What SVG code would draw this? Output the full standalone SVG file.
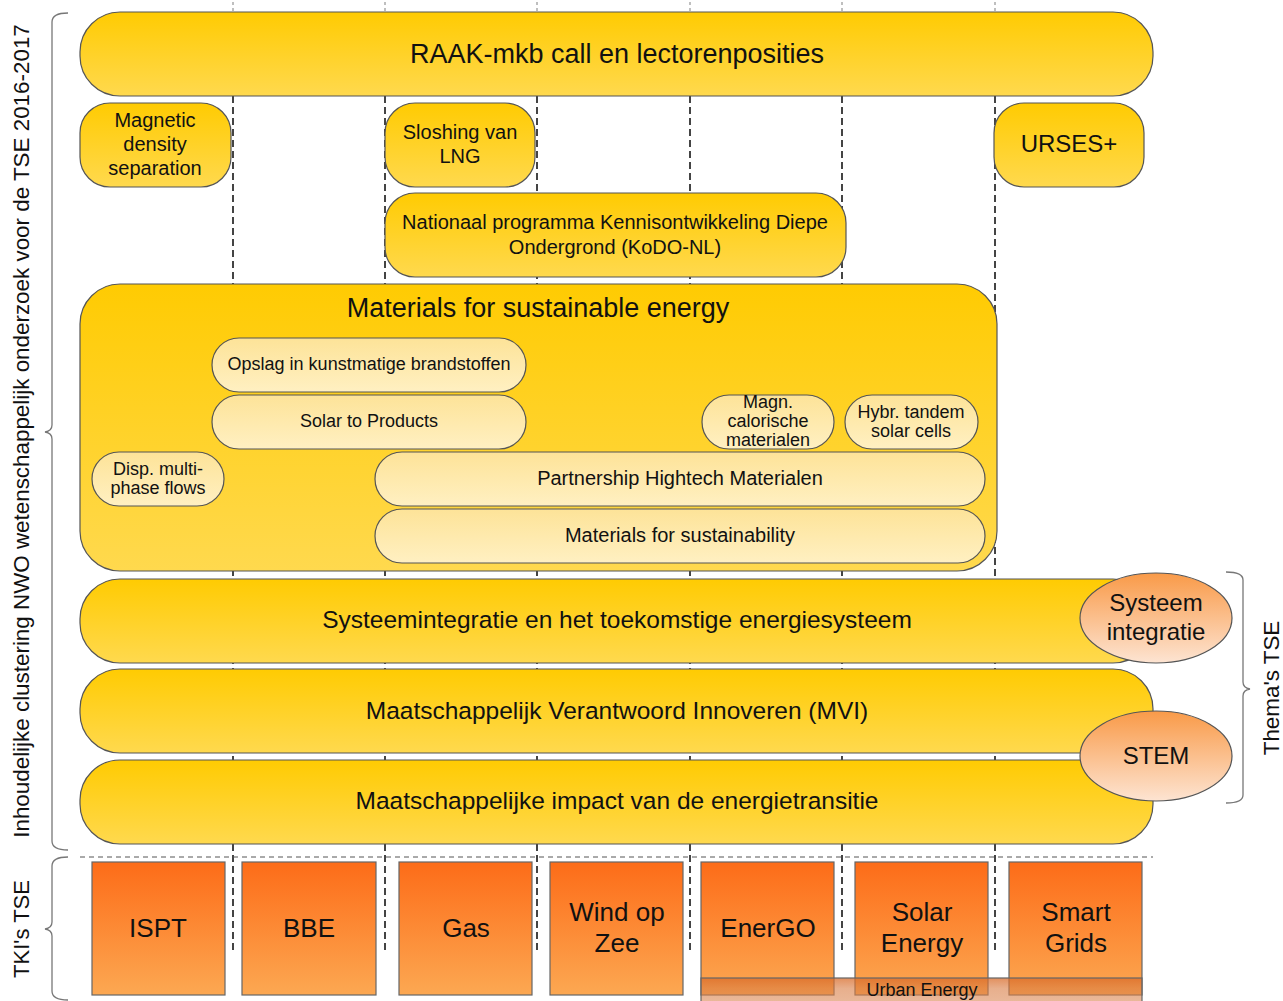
<svg xmlns="http://www.w3.org/2000/svg" width="1283" height="1001" viewBox="0 0 1283 1001">
<defs>
<linearGradient id="gY" x1="0" y1="0" x2="0" y2="1"><stop offset="0" stop-color="#ffcb02"/><stop offset="1" stop-color="#ffd94e"/></linearGradient>
<linearGradient id="gP" x1="0" y1="0" x2="0" y2="1"><stop offset="0" stop-color="#fde398"/><stop offset="1" stop-color="#fff0c2"/></linearGradient>
<linearGradient id="gO" x1="0" y1="0" x2="0" y2="1"><stop offset="0" stop-color="#fd6c18"/><stop offset="1" stop-color="#fca852"/></linearGradient>
<linearGradient id="gE" x1="0" y1="0" x2="0" y2="1"><stop offset="0" stop-color="#f99a48"/><stop offset="1" stop-color="#fde4d2"/></linearGradient>
<linearGradient id="gU" x1="0" y1="0" x2="0" y2="1"><stop offset="0" stop-color="#d96a28" stop-opacity="0.75"/><stop offset="0.35" stop-color="#d87a40" stop-opacity="0.6"/><stop offset="1" stop-color="#dd9060" stop-opacity="0.6"/></linearGradient>
<style>
text{font-family:"Liberation Sans",Arial,sans-serif;fill:#111;text-anchor:middle}
.y{fill:url(#gY);stroke:#555;stroke-width:1.2}
.p{fill:url(#gP);stroke:#555;stroke-width:1.2}
.o{fill:url(#gO);stroke:#666;stroke-width:1.2}
.e{fill:url(#gE);stroke:#555;stroke-width:1.2}
.vd{stroke:#444;stroke-width:2;stroke-dasharray:7 4;fill:none}
.vt{stroke:#aaa;stroke-width:1.5;stroke-dasharray:3 3;fill:none}
.hd{stroke:#555;stroke-width:1;stroke-dasharray:5 4;fill:none}
.br{stroke:#777;stroke-width:1.3;fill:none}
.f18{font-size:18px}.f20{font-size:20px}.f22{font-size:22px}.f24{font-size:24px}.f245{font-size:24.5px}.f26{font-size:26px}.f27{font-size:27px}
</style>
</defs>
<rect width="1283" height="1001" fill="#fff"/>
<g id="connectors">
<line class="vt" x1="233" y1="2" x2="233" y2="12"/>
<line class="vt" x1="385" y1="2" x2="385" y2="12"/>
<line class="vt" x1="537" y1="2" x2="537" y2="12"/>
<line class="vt" x1="690" y1="2" x2="690" y2="12"/>
<line class="vt" x1="842" y1="2" x2="842" y2="12"/>
<line class="vt" x1="995" y1="2" x2="995" y2="12"/>
<line class="vd" x1="233" y1="96" x2="233" y2="953"/>
<line class="vd" x1="385" y1="96" x2="385" y2="953"/>
<line class="vd" x1="537" y1="96" x2="537" y2="953"/>
<line class="vd" x1="690" y1="96" x2="690" y2="953"/>
<line class="vd" x1="842" y1="96" x2="842" y2="953"/>
<line class="vd" x1="995" y1="96" x2="995" y2="953"/>
<line class="hd" x1="80" y1="857" x2="1153" y2="857"/>
</g>
<g id="braces">
<path class="br" d="M68,13 Q52,13 52,22 L52,425 Q52,431 45,432 Q52,433 52,439 L52,841 Q52,850 68,850"/>
<path class="br" d="M68,857 Q52,857 52,866 L52,922 Q52,928 45,929 Q52,930 52,936 L52,991 Q52,1000 68,1000"/>
<path class="br" d="M1226,572 Q1243,572 1243,580 L1243,682 Q1243,688 1250,689 Q1243,690 1243,696 L1243,795 Q1243,803 1226,803"/>
<text style="font-size:22.4px" transform="translate(29,431) rotate(-90)">Inhoudelijke clustering NWO wetenschappelijk onderzoek voor de TSE 2016-2017</text>
<text class="f22" transform="translate(29,929) rotate(-90)">TKI's TSE</text>
<text style="font-size:22.4px" transform="translate(1279,688) rotate(-90)">Thema's TSE</text>
</g>
<g id="raak"><rect class="y" x="80" y="12" width="1073" height="84" rx="40"/><text class="f27" x="617" y="63">RAAK-mkb call en lectorenposities</text></g>
<g id="magnetic"><rect class="y" x="80" y="103" width="151" height="84" rx="30"/><text class="f20" x="155" y="127">Magnetic</text><text class="f20" x="155" y="151">density</text><text class="f20" x="155" y="175">separation</text></g>
<g id="sloshing"><rect class="y" x="385" y="103" width="150" height="84" rx="30"/><text class="f20" x="460" y="139">Sloshing van</text><text class="f20" x="460" y="163">LNG</text></g>
<g id="kodo"><rect class="y" x="385" y="193" width="461" height="84" rx="30"/><text class="f20" x="615" y="229">Nationaal programma Kennisontwikkeling Diepe</text><text class="f20" x="615" y="254">Ondergrond (KoDO-NL)</text></g>
<g id="urses"><rect class="y" x="994" y="103" width="150" height="84" rx="30"/><text class="f24" x="1069" y="152">URSES+</text></g>
<g id="materials"><rect class="y" x="80" y="284" width="917" height="287" rx="40"/><text class="f27" x="538" y="317">Materials for sustainable energy</text></g>
<g id="opslag"><rect class="p" x="212" y="338" width="314" height="54" rx="27"/><text class="f18" x="369" y="370">Opslag in kunstmatige brandstoffen</text></g>
<g id="solar-products"><rect class="p" x="212" y="395" width="314" height="54" rx="27"/><text class="f18" x="369" y="427">Solar to Products</text></g>
<g id="disp"><rect class="p" x="92" y="452" width="132" height="54" rx="27"/><text class="f18" x="158" y="475">Disp. multi-</text><text class="f18" x="158" y="494">phase flows</text></g>
<g id="magn"><rect class="p" x="702" y="395" width="132" height="54" rx="27"/><text class="f18" x="768" y="408">Magn.</text><text class="f18" x="768" y="427">calorische</text><text class="f18" x="768" y="446">materialen</text></g>
<g id="hybr"><rect class="p" x="845" y="395" width="133" height="54" rx="27"/><text class="f18" x="911" y="418">Hybr. tandem</text><text class="f18" x="911" y="437">solar cells</text></g>
<g id="partnership"><rect class="p" x="375" y="452" width="610" height="54" rx="27"/><text class="f20" x="680" y="485">Partnership Hightech Materialen</text></g>
<g id="sustainability"><rect class="p" x="375" y="509" width="610" height="54" rx="27"/><text class="f20" x="680" y="542">Materials for sustainability</text></g>
<g id="systeemintegratie"><rect class="y" x="80" y="579" width="1073" height="84" rx="40"/><text class="f245" x="617" y="628">Systeemintegratie en het toekomstige energiesysteem</text></g>
<g id="systeem-ellipse"><ellipse class="e" cx="1156" cy="618" rx="76" ry="45"/><text class="f24" x="1156" y="611">Systeem</text><text class="f24" x="1156" y="640">integratie</text></g>
<g id="mvi"><rect class="y" x="80" y="669" width="1073" height="84" rx="40"/><text class="f245" x="617" y="719">Maatschappelijk Verantwoord Innoveren (MVI)</text></g>
<g id="impact"><rect class="y" x="80" y="760" width="1073" height="84" rx="40"/><text class="f245" x="617" y="809">Maatschappelijke impact van de energietransitie</text></g>
<g id="stem"><ellipse class="e" cx="1156" cy="756" rx="76" ry="45"/><text class="f24" x="1156" y="764">STEM</text></g>
<g id="ispt"><rect class="o" x="92" y="862" width="133" height="133"/><text class="f26" x="158" y="937">ISPT</text></g>
<g id="bbe"><rect class="o" x="242" y="862" width="134" height="133"/><text class="f26" x="309" y="937">BBE</text></g>
<g id="gas"><rect class="o" x="399" y="862" width="133" height="133"/><text class="f26" x="466" y="937">Gas</text></g>
<g id="wind"><rect class="o" x="550" y="862" width="133" height="133"/><text class="f26" x="617" y="921">Wind op</text><text class="f26" x="617" y="952">Zee</text></g>
<g id="energo"><rect class="o" x="701" y="862" width="133" height="133"/><text class="f26" x="768" y="937">EnerGO</text></g>
<g id="solar-energy"><rect class="o" x="855" y="862" width="133" height="133"/><text class="f26" x="922" y="921">Solar</text><text class="f26" x="922" y="952">Energy</text></g>
<g id="smart-grids"><rect class="o" x="1009" y="862" width="133" height="133"/><text class="f26" x="1076" y="921">Smart</text><text class="f26" x="1076" y="952">Grids</text></g>
<g id="urban"><rect x="701" y="978" width="441" height="30" fill="url(#gU)" stroke="#666" stroke-width="1.2"/><text class="f18" x="922" y="996">Urban Energy</text></g>
</svg>
